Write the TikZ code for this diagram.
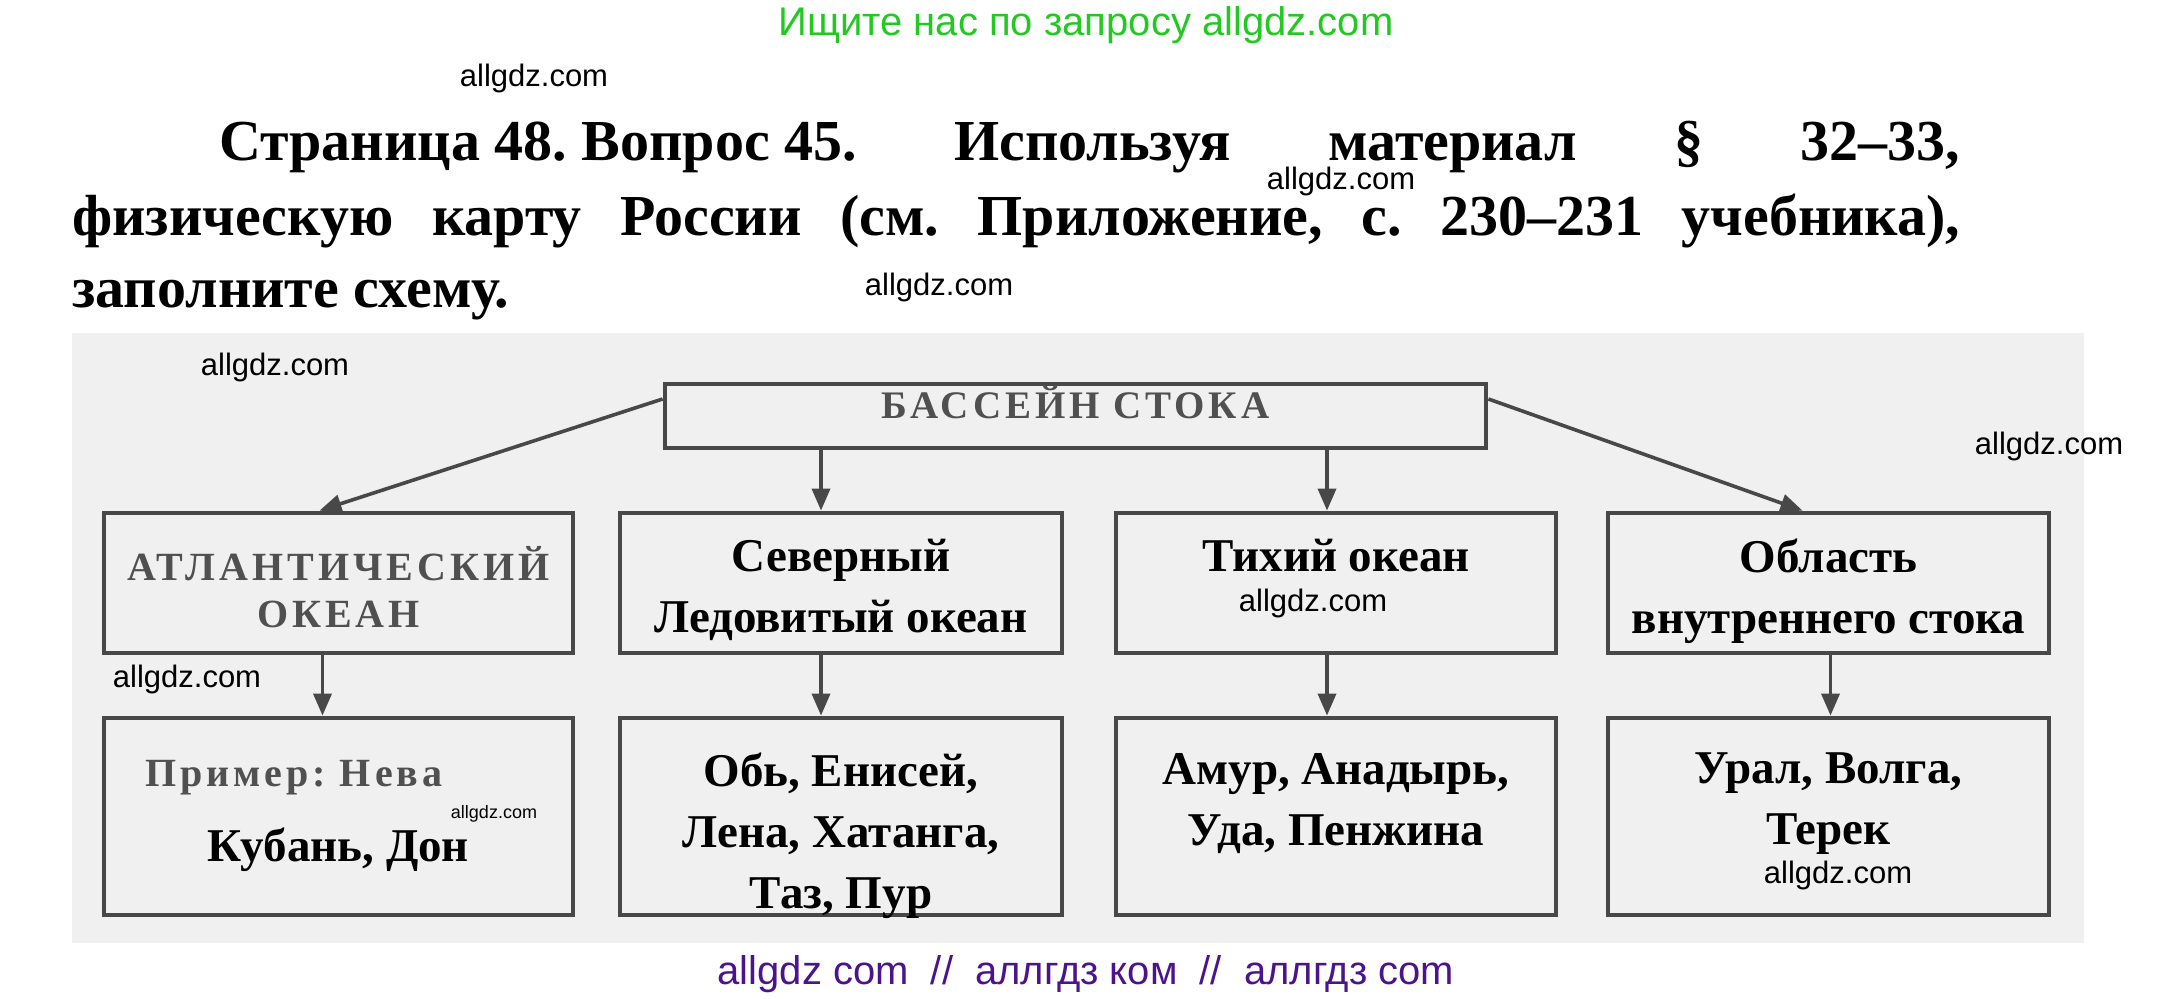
\documentclass[tikz,border=0pt]{standalone}
\usepackage{fontspec}
\setmainfont{Liberation Serif}
\newfontfamily\wmfont{Liberation Sans}
\newfontfamily\printfont[LetterSpace=10]{Liberation Serif}
\usepackage{xcolor}
\usetikzlibrary{arrows.meta, positioning}
\frenchspacing

\definecolor{bggray}{RGB}{240,240,240}
\definecolor{linegray}{RGB}{72,72,72}
\definecolor{printgray}{RGB}{80,80,80}
\definecolor{wmgreen}{RGB}{35,200,35}
\definecolor{wmpurple}{RGB}{75,20,140}

\tikzset{
	box/.style = {draw = linegray, line width = 2.4pt, inner sep = 0pt},
	arr/.style = {draw = linegray, line width = 1.8pt, -{Triangle[width = 9pt, length = 11pt]}},
	otv/.style = {font = \fontsize{23.5}{30.5}\selectfont\bfseries, align = center, inner sep = 0pt},
	pech/.style = {text = printgray, font = \printfont\fontsize{20}{23.5}\selectfont\bfseries, align = center, inner sep = 0pt},
	wm/.style = {font = \wmfont\fontsize{15.5}{18}\selectfont, inner sep = 0pt},
	zag/.style = {font = \fontsize{29}{34}\selectfont\bfseries, inner sep = 0pt},
}

\begin{document}
\begin{tikzpicture}[x = 0.5pt, y = -0.5pt]
		\useasboundingbox (0,0) rectangle (2174,999);
		\fill[bggray] (72,333) rectangle (2084,943);
		
		% header
		\node[wm, text = wmgreen, font = \wmfont\fontsize{20}{24}\selectfont] (top) at (1086,25) {Ищите нас по запросу allgdz.com};
		
		\node[zag, anchor = base west] (z1) at (219,161) {\makebox[870.5pt][s]{Страница\hspace{.25em}48.\hspace{.25em}Вопрос\hspace{.25em}45. Используя материал § 32–33,}};
		\node[zag, anchor = base west] (z2) at (72,236) {\makebox[944pt][s]{физическую карту России (см. Приложение, с. 230–231 учебника),}};
		\node[zag, anchor = base west] (z3) at (72,308) {заполните схему.};
		
		% boxes
		\node[box, minimum width = 410.5pt, minimum height = 32pt] (basin) at (1075.5,416) {};
		\foreach \n/\x/\w in {atl/338.5/234.5, sev/841/221, tih/1336/220, vnu/1828.5/220.5} {
			\node[box, minimum width = \w pt, minimum height = 70pt] (\n) at (\x,583) {};
			\node[box, minimum width = \w pt, minimum height = 98.5pt] (\n2) at (\x,816.5) {};
		}
		
		\node[pech, font = \printfont\fontsize{19.5}{23}\selectfont\bfseries, yshift = 7pt] (basint) at (basin) {БАССЕЙН СТОКА};
		
		\node[pech, below = 17.5pt of atl.north] (atlt) {АТЛАНТИЧЕСКИЙ\\ОКЕАН};
		\node[otv, below = 14pt of sev.north] (sevt) {Северный\\Ледовитый океан};
		\node[otv, below = 14pt of tih.north] (tiht) {Тихий океан};
		\node[otv, below = 14pt of vnu.north] (vnut) {Область\\внутреннего стока};
		
		\node[pech, below right = 22pt and 21.5pt of atl2.north west] (primer) {Пример: Нева};
		\node[otv, below = 56pt of atl2.north] (atlr) {Кубань, Дон};
		\node[otv, below = 18.5pt of sev2.north] (sevr) {Обь, Енисей,\\Лена, Хатанга,\\Таз, Пур};
		\node[otv, below = 18.5pt of tih2.north] (tihr) {Амур, Анадырь,\\Уда, Пенжина};
		\node[otv, below = 18.5pt of vnu2.north] (vnur) {Урал, Волга,\\Терек};
		
		% arrows
		\coordinate (s2) at ([xshift = -10pt]sev.north);
		\coordinate (s3) at ([xshift = -4.5pt]tih.north);
		\draw[arr] ([yshift = 8.5pt]basin.west) -- ([xshift = -9.5pt]atl.north);
		\draw[arr] (s2 |- basin.south) -- (s2);
		\draw[arr] (s3 |- basin.south) -- (s3);
		\draw[arr] ([yshift = 8.5pt]basin.east) -- ([xshift = -13pt]vnu.north);
		\foreach \n/\s in {atl/-8, sev/-10, tih/-4.5, vnu/1}
			\draw[arr] ([xshift = \s pt]\n.south) -- ([xshift = \s pt]\n2.north);
		
		% watermarks
		\foreach \x/\y [count = \i] in {534/78, 1341/181, 939/287, 275/367, 2049/446, 1313/603, 187/679, 1838/875}
			\node[wm] (wm\i) at (\x,\y) {allgdz.com};
		\node[wm, font = \wmfont\fontsize{9}{11}\selectfont] (wm9) at (494,814) {allgdz.com};
		
		\node[wm, text = wmpurple, font = \wmfont\fontsize{20}{24}\selectfont] (bottom) at (1086,974) {allgdz com\ \ //\ \ аллгдз ком\ \ //\ \ аллгдз com};
	\end{tikzpicture}
\end{document}
